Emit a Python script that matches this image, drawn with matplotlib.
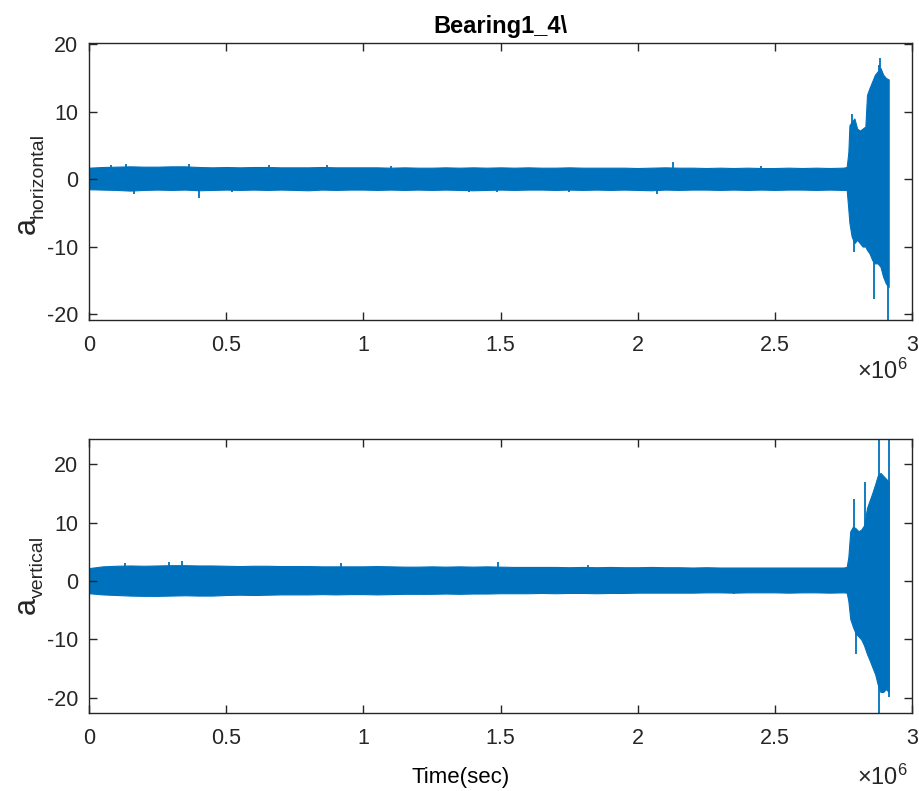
import numpy as np
import matplotlib
matplotlib.use("Agg")
import matplotlib.pyplot as plt
from matplotlib.ticker import FuncFormatter

plt.rcParams['font.family'] = ['Liberation Sans', 'DejaVu Sans']
plt.rcParams['mathtext.default'] = 'regular'
plt.rcParams['axes.unicode_minus'] = False

# ---- data (time in units of 1e6 samples) ----
flat_t = [0.00, 0.05, 0.10, 0.15, 0.20, 0.25, 0.30, 0.35, 0.40, 0.45,
          0.50, 0.55, 0.60, 0.65, 0.70, 0.75, 0.80, 0.85, 0.90, 0.95,
          1.00, 1.05, 1.10, 1.15, 1.20, 1.25, 1.30, 1.35, 1.40, 1.45,
          1.50, 1.55, 1.60, 1.65, 1.70, 1.75, 1.80, 1.85, 1.90, 1.95,
          2.00, 2.05, 2.10, 2.15, 2.20, 2.25, 2.30, 2.35, 2.40, 2.45,
          2.50, 2.55, 2.60, 2.65, 2.70, 2.75]

# horizontal channel envelope
h_end_t = [2.762, 2.768, 2.772, 2.780, 2.790, 2.800, 2.810, 2.820, 2.830, 2.836,
           2.845, 2.855, 2.865, 2.875, 2.885, 2.895, 2.905, 2.915]
h_upper_flat = [1.7, 1.8, 1.85, 1.9, 1.85, 1.85, 1.9, 1.9, 1.8, 1.75,
                1.8, 1.75, 1.8, 1.8, 1.75, 1.75, 1.75, 1.8, 1.75, 1.75,
                1.75, 1.75, 1.7, 1.75, 1.7, 1.7, 1.75, 1.7, 1.75, 1.7,
                1.75, 1.7, 1.75, 1.7, 1.7, 1.75, 1.7, 1.7, 1.7, 1.7,
                1.65, 1.7, 1.75, 1.7, 1.7, 1.65, 1.7, 1.65, 1.7, 1.65,
                1.65, 1.7, 1.65, 1.7, 1.65, 1.7]
h_lower_flat = [-1.5, -1.55, -1.6, -1.7, -1.6, -1.55, -1.6, -1.55, -1.65, -1.6,
                -1.55, -1.6, -1.55, -1.6, -1.55, -1.6, -1.65, -1.55, -1.6, -1.55,
                -1.55, -1.6, -1.55, -1.6, -1.55, -1.6, -1.55, -1.6, -1.65, -1.6,
                -1.55, -1.6, -1.55, -1.55, -1.6, -1.55, -1.6, -1.55, -1.6, -1.55,
                -1.6, -1.65, -1.55, -1.6, -1.55, -1.55, -1.6, -1.55, -1.6, -1.55,
                -1.6, -1.55, -1.55, -1.6, -1.55, -1.6]
h_upper_end = [1.8, 4.0, 8.0, 8.5, 9.0, 7.5, 7.2, 7.5, 7.8, 12.5,
               13.5, 14.5, 15.5, 16.0, 16.5, 15.5, 15.0, 14.8]
h_lower_end = [-1.6, -4.5, -6.5, -8.5, -9.5, -9.0, -9.5, -10.0, -10.0, -10.5,
               -11.0, -12.0, -12.5, -12.5, -13.0, -14.5, -15.5, -16.0]
h_spike_t = [0.134, 0.164, 0.365, 0.401, 0.656, 0.869, 1.385, 1.489, 2.070, 2.128,
             2.783, 2.790, 2.862, 2.884, 2.878, 2.912, 0.08, 0.52, 1.10, 1.75, 2.45]
h_spike_lo = [0, -2.2, 0, -2.8, 0, 0, -1.9, -1.9, -2.2, 0,
              0, -10.8, -17.8, 0, 0, -21.0, 0, -1.9, 0, -1.9, 0]
h_spike_hi = [2.2, 0, 2.2, 0, 2.1, 2.1, 0, 0, 0, 2.6,
              9.6, 0, 0, 18.0, 17.0, 0, 2.1, 0, 2.0, 0, 2.0]

# vertical channel envelope
v_end_t = [2.762, 2.768, 2.775, 2.785, 2.795, 2.805, 2.815, 2.825, 2.836, 2.845,
           2.855, 2.866, 2.875, 2.885, 2.895, 2.905, 2.915]
v_upper_flat = [2.2, 2.5, 2.6, 2.65, 2.6, 2.65, 2.7, 2.7, 2.65, 2.65,
                2.6, 2.55, 2.6, 2.6, 2.55, 2.55, 2.55, 2.5, 2.5, 2.5,
                2.5, 2.55, 2.5, 2.45, 2.45, 2.5, 2.45, 2.5, 2.45, 2.5,
                2.45, 2.4, 2.4, 2.4, 2.4, 2.35, 2.4, 2.35, 2.4, 2.35,
                2.35, 2.4, 2.35, 2.35, 2.3, 2.35, 2.3, 2.3, 2.3, 2.3,
                2.3, 2.3, 2.3, 2.3, 2.3, 2.3]
v_lower_flat = [-2.1, -2.3, -2.4, -2.5, -2.55, -2.55, -2.5, -2.45, -2.5, -2.5,
                -2.4, -2.35, -2.4, -2.35, -2.3, -2.3, -2.3, -2.25, -2.3, -2.25,
                -2.25, -2.3, -2.25, -2.2, -2.2, -2.2, -2.15, -2.2, -2.15, -2.15,
                -2.1, -2.1, -2.1, -2.05, -2.1, -2.05, -2.05, -2.1, -2.05, -2.05,
                -2.0, -2.0, -2.0, -2.0, -2.0, -1.95, -1.95, -2.0, -1.95, -1.95,
                -1.95, -2.0, -1.95, -1.95, -2.0, -1.95]
v_upper_end = [2.4, 4.1, 8.5, 9.3, 9.0, 8.5, 8.8, 9.5, 12.5, 13.7,
               15.0, 16.6, 18.0, 18.5, 18.0, 17.5, 17.0]
v_lower_end = [-2.0, -3.4, -6.5, -7.9, -9.0, -9.5, -10.0, -11.0, -12.5, -13.5,
               -14.7, -16.0, -17.7, -19.0, -19.0, -18.5, -19.0]
v_spike_t = [0.25, 0.29, 0.34, 0.46, 1.49, 2.787, 2.795, 2.829, 2.879, 2.915,
             0.13, 0.62, 0.92, 1.22, 1.82, 2.35]
v_spike_lo = [-2.8, 0, 0, -2.6, 0, 0, -12.5, 0, -22.6, -19.9,
              0, -2.6, 0, -2.4, 0, -2.2]
v_spike_hi = [0, 3.2, 3.5, 0, 3.2, 14.0, 0, 17.0, 24.3, 24.3,
              3.0, 0, 3.0, 0, 2.8, 0]

x_ticks = [0, 0.5, 1, 1.5, 2, 2.5, 3]
h_yticks = [-20, -10, 0, 10, 20]
v_yticks = [-20, -10, 0, 10, 20]

SCALE = 1e6
BLUE = '#0072BD'
AXC = '#262626'

W, H = 919, 791
fig = plt.figure(figsize=(W / 100, H / 100), dpi=100)


def px_axes(l, t, r, b):
    return fig.add_axes([l / W, 1 - b / H, (r - l) / W, (b - t) / H])


def px_text(x, y, s, **kw):
    return fig.text(x / W, 1 - y / H, s, **kw)


def draw(ax, t_flat, up_flat, lo_flat, t_end, up_end, lo_end, st, slo, shi, ylim, yticks):
    t = np.array(list(t_flat) + list(t_end)) * SCALE
    up = np.array(list(up_flat) + list(up_end))
    lo = np.array(list(lo_flat) + list(lo_end))
    ax.fill_between(t, lo, up, color=BLUE, linewidth=0.8, edgecolor=BLUE)
    ax.vlines(np.array(st) * SCALE, slo, shi, color=BLUE, linewidth=1.3)
    ax.set_xlim(0, 3 * SCALE)
    ax.set_ylim(*ylim)
    ax.set_xticks(np.array(x_ticks) * SCALE)
    ax.xaxis.set_major_formatter(FuncFormatter(lambda v, p: ('%g' % (v / SCALE))))
    ax.set_yticks(yticks)
    ax.tick_params(direction='in', length=6, width=1, colors=AXC, labelsize=15.5,
                   top=True, right=True)
    ax.tick_params(axis='x', pad=11)
    ax.tick_params(axis='y', pad=8)
    for s in ax.spines.values():
        s.set_color(AXC)
        s.set_linewidth(1.0)


def ylabel(x_a, y_a, x_sub, y_sub, sub):
    kw = dict(rotation=90, rotation_mode='anchor', ha='left', va='baseline', color=AXC)
    px_text(x_a, y_a, 'a', fontsize=22, **kw)
    px_text(x_sub, y_sub, sub, fontsize=14, **kw)


ax1 = px_axes(89, 43, 912, 320)
draw(ax1, flat_t, h_upper_flat, h_lower_flat, h_end_t, h_upper_end, h_lower_end,
     h_spike_t, h_spike_lo, h_spike_hi, (-20.9, 20.2), h_yticks)
ax1.set_title('Bearing1_4\\', fontsize=17, fontweight='bold', pad=7)
ylabel(35, 234, 43, 218, 'horizontal')

ax2 = px_axes(89, 439, 912, 713)
draw(ax2, flat_t, v_upper_flat, v_lower_flat, v_end_t, v_upper_end, v_lower_end,
     v_spike_t, v_spike_lo, v_spike_hi, (-22.6, 24.3), v_yticks)
ylabel(35, 614, 43, 598, 'vertical')

px_text(908, 371, r'$\times10^{6}$', ha='right', va='center', fontsize=17, color=AXC)
px_text(908, 777, r'$\times10^{6}$', ha='right', va='center', fontsize=17, color=AXC)
px_text(461, 777, 'Time(sec)', ha='center', va='center', fontsize=16, color='black')

fig.savefig('out.png', dpi=100)
